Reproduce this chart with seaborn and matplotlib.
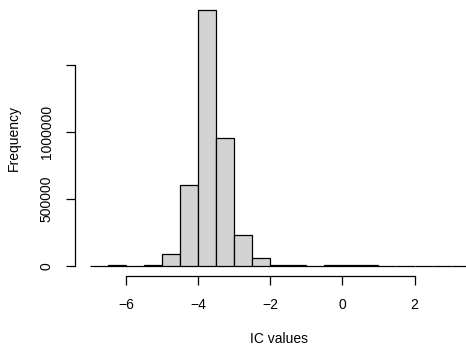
import numpy as np
import pandas as pd
import matplotlib
matplotlib.use("Agg")
import matplotlib.pyplot as plt
import seaborn as sns

# Histogram of IC values: bin edges (width 0.5) and counts per bin
bin_edges = [-7.0, -6.5, -6.0, -5.5, -5.0, -4.5, -4.0, -3.5, -3.0, -2.5, -2.0,
             -1.5, -1.0, -0.5, 0.0, 0.5, 1.0, 1.5, 2.0, 2.5, 3.0, 3.5]
bin_counts = [300, 2500, 1500, 9000, 88000, 604000, 1910000, 950000, 228000,
              55000, 9000, 2500, 1200, 2000, 2500, 2500, 300, 200, 100, 100, 100]
x_ticks = [-6, -4, -2, 0, 2]
y_ticks = [0, 500000, 1000000, 1500000]
y_tick_labels = ["0", "500000", "1000000", ""]

sns.set_style("white")
plt.rcParams["font.family"] = ["Liberation Sans", "DejaVu Sans"]
plt.rcParams["axes.unicode_minus"] = True

centers = [(a + b) / 2 for a, b in zip(bin_edges[:-1], bin_edges[1:])]
df = pd.DataFrame({"ic": centers, "n": bin_counts})

W, H = 466, 352
fig = plt.figure(figsize=(W / 100, H / 100), dpi=100)
ax = fig.add_axes([75 / W, (H - 276) / H, 408.7 / W, 276.5 / H])

sns.histplot(data=df, x="ic", weights="n", bins=bin_edges, ax=ax,
             color="#D3D3D3", edgecolor="black", linewidth=0.9, alpha=1.0)

span_x = bin_edges[-1] - bin_edges[0]
ax.set_xlim(bin_edges[0] - 0.04 * span_x, bin_edges[-1] + 0.04 * span_x)
ymax = max(bin_counts)
ax.set_ylim(-0.04 * ymax, ymax * 1.04)

for side in ["top", "right"]:
    ax.spines[side].set_visible(False)
ax.spines["left"].set_bounds(y_ticks[0], y_ticks[-1])
ax.spines["bottom"].set_bounds(x_ticks[0], x_ticks[-1])
for side in ["left", "bottom"]:
    ax.spines[side].set_linewidth(0.9)
    ax.spines[side].set_color("black")

ax.set_xticks(x_ticks)
ax.set_xticklabels([f"\u2212{abs(v)}" if v < 0 else str(v) for v in x_ticks])
ax.set_yticks(y_ticks)
ax.set_yticklabels(y_tick_labels, rotation=90, va="center")
ax.tick_params(axis="both", which="major", bottom=True, left=True,
               direction="out", length=6.2, width=0.9,
               color="black", labelsize=10, pad=9.5, labelcolor="black")
ax.tick_params(axis="y", pad=9.0)

ax.set_xlabel("IC values", fontsize=10, color="black")
ax.set_ylabel("Frequency", fontsize=10, color="black")
ax.xaxis.set_label_coords(0.5, (276 - 339) / 276.5)
ax.xaxis.label.set_va("center")
ax.yaxis.set_label_coords((14 - 75) / 408.7, 0.5)
ax.yaxis.label.set_va("center")
ax.grid(False)

fig.savefig("out.png", dpi=100)
